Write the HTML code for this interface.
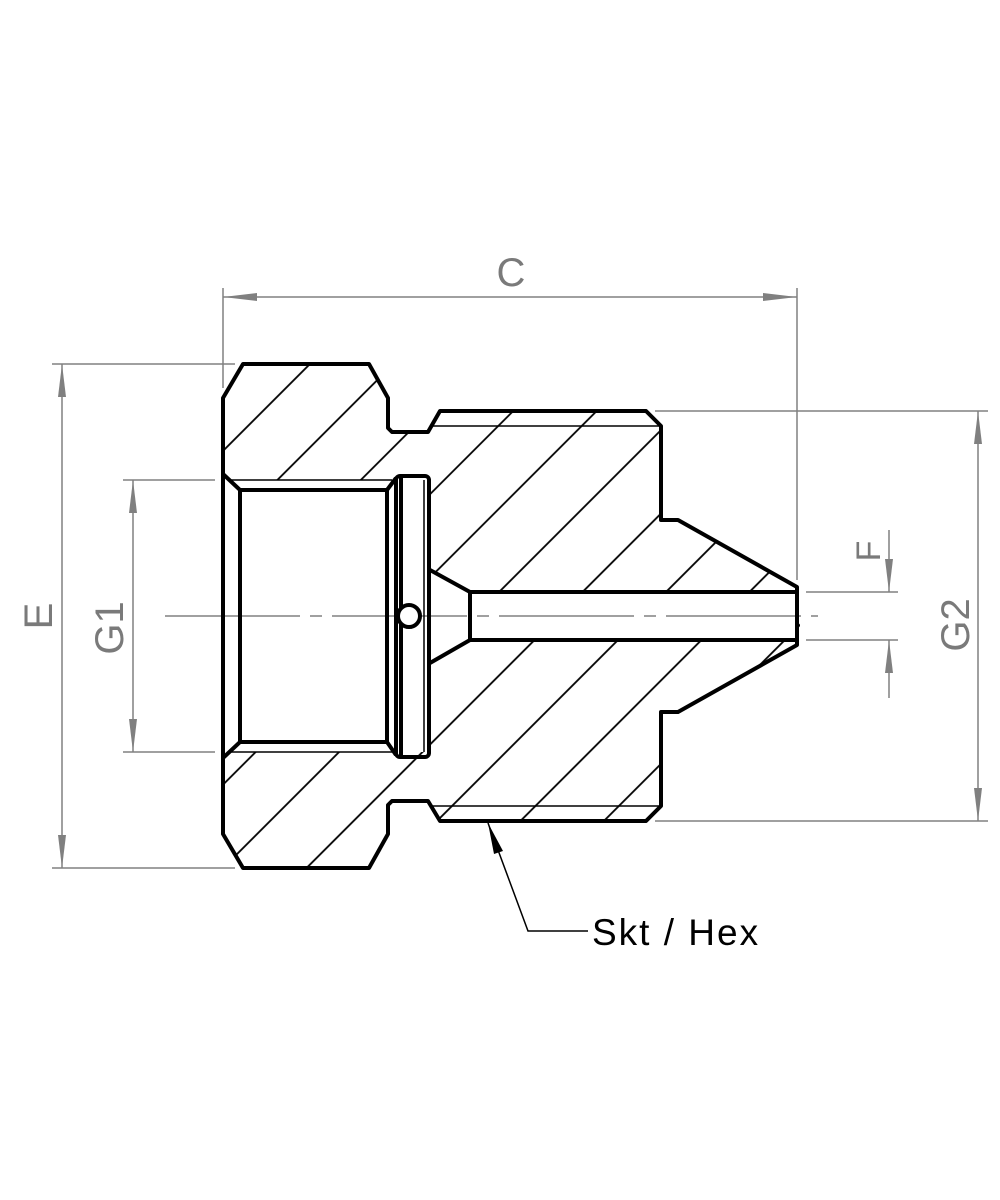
<!DOCTYPE html>
<html><head><meta charset="utf-8"><style>
html,body{margin:0;padding:0;background:#fff;}
svg{display:block;}
text{font-family:"Liberation Sans",sans-serif;fill:#7a7a7a;}
</style></head><body>
<svg width="1000" height="1200" viewBox="0 0 1000 1200" xmlns="http://www.w3.org/2000/svg">
<defs>
<pattern id="h" patternUnits="userSpaceOnUse" width="59" height="59" patternTransform="translate(289.1,343.1) rotate(45)">
<line x1="29.5" y1="-1" x2="29.5" y2="60" stroke="#000" stroke-width="1.8"/>
</pattern>
<clipPath id="sec">
<path clip-rule="evenodd" d="M223,398 L243,364 L369,364 L388,398 L388,428 L392,432 L428,432 L440,411 L646,411 L661,426 L661,520 L678,520 L797,587 L797,645 L678,712 L661,712 L661,806 L646,821 L440,821 L428,801 L392,801 L388,805 L388,834 L369,868 L243,868 L223,834 Z
M223,474 L232,480 L430,480 L430,570 L470,592 L800,592 L800,640 L470,640 L430,663 L430,752 L232,752 L223,758 Z"/>
</clipPath>
</defs>
<rect x="150" y="350" width="700" height="530" fill="url(#h)" clip-path="url(#sec)"/>
<line x1="165" y1="616" x2="818" y2="616" stroke="#808080" stroke-width="1.5" stroke-dasharray="135,10,12,10"/>
<g fill="none" stroke="#000">
<path stroke-width="4" stroke-linejoin="round" d="M223,398 L243,364 L369,364 L388,398 L388,428 L392,432 L428,432 L440,411 L646,411 L661,426 L661,520 L678,520 L797,587 L797,645 L678,712 L661,712 L661,806 L646,821 L440,821 L428,801 L392,801 L388,805 L388,834 L369,868 L243,868 L223,834 Z"/>
<path stroke-width="4" d="M223,474 L240,490 L387,490 L387,742 L240,742 L223,758 M240,490 L240,742"/>
<path stroke-width="1.6" d="M228,480 L392,480 M228,752 L392,752 M432,426 L661,426 M432,806 L661,806"/>
<rect x="396" y="476" width="33" height="281" rx="4" stroke-width="4"/>
<path stroke-width="4" d="M401,478 L401,755 M387,490 L396,478 M387,742 L396,755"/>
<path stroke-width="1.5" d="M424,480 L424,752"/>
<circle cx="409" cy="616" r="11" stroke-width="4" fill="#fff"/>
<path stroke-width="4" d="M430,570 L470,592 L797,592 M430,663 L470,640 L797,640 M470,592 L470,640"/>
</g>
<g stroke="#808080" stroke-width="1.5" fill="none">
<path d="M223,288 L223,388 M797,288 L797,580 M223,297 L797,297"/>
<path d="M52,364 L235,364 M52,868 L235,868 M62,364 L62,868"/>
<path d="M123,480 L215,480 M123,752 L215,752 M133,480 L133,752"/>
<path d="M655,411 L988,411 M655,821 L988,821 M978,411 L978,821"/>
<path d="M806,592 L898,592 M806,640 L898,640 M889,530 L889,592 M889,640 L889,698"/>
<path stroke="#000" stroke-width="1.5" d="M488,823 L528,931 L588,931"/>
</g>
<g fill="#808080">
<polygon points="223,297 257,293 257,301"/>
<polygon points="797,297 763,293 763,301"/>
<polygon points="62,364 58,397 66,397"/>
<polygon points="62,868 58,835 66,835"/>
<polygon points="133,480 129,513 137,513"/>
<polygon points="133,752 129,719 137,719"/>
<polygon points="978,411 974,444 982,444"/>
<polygon points="978,821 974,788 982,788"/>
<polygon points="889,592 885,559 893,559"/>
<polygon points="889,640 885,673 893,673"/>
</g>
<polygon points="488,823 503,851 494,854" fill="#000"/>
<text x="511" y="286" font-size="40" text-anchor="middle">C</text>
<text transform="translate(52,616) rotate(-90)" font-size="40" text-anchor="middle">E</text>
<text transform="translate(123,628) rotate(-90)" font-size="40" text-anchor="middle">G1</text>
<text transform="translate(969,625) rotate(-90)" font-size="40" text-anchor="middle">G2</text>
<text transform="translate(880,551) rotate(-90)" font-size="34" text-anchor="middle">F</text>
<text x="592" y="945" font-size="37" letter-spacing="2" style="fill:#000">Skt / Hex</text>
</svg>
</body></html>
